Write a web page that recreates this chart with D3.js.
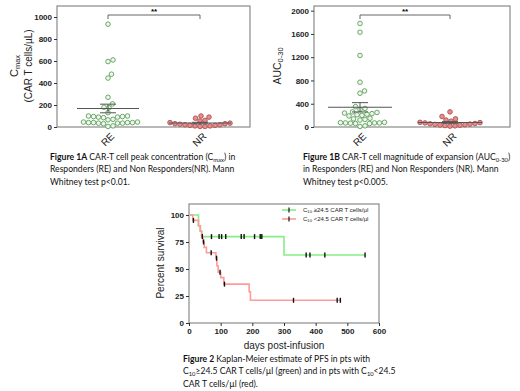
<!DOCTYPE html>
<html>
<head>
<meta charset="utf-8">
<script src="https://cdn.jsdelivr.net/npm/d3@7"></script>
<style>
  body { margin: 0; background: #fff; }
  svg { display: block; }
</style>
</head>
<body>
<div id="chart"></div>
<script>
// ---- data ----
const groups = ['RE', 'NR'];

const cmaxRE = [935, 610, 595, 480, 445, 270, 210, 180, 175, 130, 100, 100, 95, 95, 90, 90, 85, 70, 65,
  45, 45, 40, 40, 40, 40, 35, 35, 35, 30, 10, 5];
const cmaxNR = [100, 90, 80, 60, 55, 40, 35, 30, 30, 25, 20, 20, 15, 15, 10, 10, 5, 5];
const cmaxTicks = [0, 200, 400, 600, 800, 1000];

const aucRE = [1780, 1630, 1230, 770, 620, 580, 350, 320, 300, 260, 250, 240, 230, 220, 210, 200, 190,
  150, 140, 130, 120, 80, 75, 70, 70, 70, 65, 60, 60, 20, 10];
const aucNR = [260, 180, 140, 120, 100, 80, 75, 70, 60, 55, 50, 45, 40, 35, 30, 25, 20, 15];
const aucTicks = [0, 400, 800, 1200, 1600, 2000];

// Kaplan-Meier steps (day, percent) and censor marks
const hiTimes = [0, 30, 35, 40, 300];
const hiSurv = [100, 90, 85, 80, 63];
const hiEnd = 556;
const hiCensorT = [71, 95, 103, 116, 165, 174, 207, 225, 230, 370, 382, 429, 556];

const loTimes = [0, 12, 30, 36, 40, 44, 48, 55, 85, 88, 92, 100, 110, 190, 194];
const loSurv = [100, 95, 90, 85, 80, 75, 70, 65, 60, 53, 47, 42, 36, 29, 21];
const loEnd = 480;
const loCensorT = [14, 42, 46, 70, 87, 98, 112, 330, 468, 478];

const survTicks = [0, 25, 50, 75, 100];
const dayTicks = [0, 100, 200, 300, 400, 500, 600];

// ---- drawing ----
const W = 520, H = 391;
const svg = d3.select('#chart').append('svg')
  .attr('width', W).attr('height', H)
  .attr('font-family', '"Liberation Sans", Arial, sans-serif');

const frameColor = '#8a8a8a';

function caption(x, y, lines) {
  const t = svg.append('text')
    .attr('x', x).attr('y', y)
    .attr('font-family', 'Lato, "Open Sans", sans-serif')
    .attr('font-size', 8.6).attr('fill', '#111');
  lines.forEach((segs, i) => {
    segs.forEach((s, j) => {
      const sp = t.append('tspan').text(s.t);
      if (j === 0) sp.attr('x', x).attr('y', y + i * 12.4);
      if (s.b) sp.attr('font-weight', 'bold');
      if (s.sub) sp.attr('font-size', 5.8).attr('dy', 1.5);
      else if (j > 0 && segs[j - 1].sub) sp.attr('dy', -1.5);
    });
  });
}

function swarm(values, y, cx, r) {
  const pts = values.map(v => ({ v, y: y(v) })).sort((a, b) => b.y - a.y);
  const placed = [];
  pts.forEach(p => {
    for (let k = 0; k < 200; k++) {
      const off = (k % 2 ? 1 : -1) * Math.ceil(k / 2) * 0.5;
      const x = cx + off;
      const hit = placed.some(q => (q.x - x) ** 2 + (q.y - p.y) ** 2 < (2 * r + 0.4) ** 2);
      if (!hit) { p.x = x; placed.push(p); break; }
    }
  });
  return placed;
}

function styleAxis(a) {
  a.select('.domain').remove();
  a.selectAll('line').attr('stroke', '#333');
  a.selectAll('text').attr('font-size', 8).attr('font-weight', 'bold').attr('fill', '#222')
    .attr('font-family', '"Liberation Sans", Arial, sans-serif');
}

function scatterPanel(o) {
  const y = d3.scaleLinear().domain([0, o.top]).range([127, 6]);
  const x = d3.scaleOrdinal().domain(groups).range(o.centers);
  const g = svg.append('g');

  g.append('rect')
    .attr('x', o.left).attr('y', 6)
    .attr('width', o.right - o.left).attr('height', 121)
    .attr('fill', 'none').attr('stroke', frameColor).attr('stroke-width', 1.2);

  g.append('g')
    .attr('transform', `translate(${o.left},0)`)
    .call(d3.axisLeft(y).tickValues(o.ticks).tickFormat(d3.format('d')).tickSize(3).tickPadding(2))
    .call(styleAxis);

  // category labels, rotated
  groups.forEach(c => {
    g.append('text')
      .attr('transform', `translate(${x(c) + 7},${137}) rotate(-45)`)
      .attr('text-anchor', 'end')
      .attr('font-size', 10).attr('fill', '#222')
      .text(c);
  });

  // significance bracket
  const by = 15;
  g.append('path')
    .attr('d', `M${x('RE')},${by + 4}V${by}H${x('NR')}V${by + 4}`)
    .attr('fill', 'none').attr('stroke', '#555').attr('stroke-width', 0.9);
  g.append('text')
    .attr('x', (x('RE') + x('NR')) / 2).attr('y', by - 1)
    .attr('text-anchor', 'middle').attr('font-size', 8).attr('font-weight', 'bold')
    .text('**');

  const sets = [
    { c: 'RE', vals: o.re, fill: '#eef8ea', stroke: '#5e9e5e' },
    { c: 'NR', vals: o.nr, fill: '#ee8a8a', stroke: '#a85454' }
  ];
  sets.forEach(s => {
    const pts = swarm(s.vals, y, x(s.c), 2.3);
    g.selectAll(null).data(pts).enter().append('circle')
      .attr('cx', d => d.x).attr('cy', d => d.y).attr('r', 2.3)
      .attr('fill', s.fill).attr('stroke', s.stroke).attr('stroke-width', 0.9);

    const m = d3.mean(s.vals);
    const sem = d3.deviation(s.vals) / Math.sqrt(s.vals.length);
    const cx = x(s.c);
    g.append('line')
      .attr('x1', cx - o.halfW).attr('x2', cx + o.halfW)
      .attr('y1', y(m)).attr('y2', y(m))
      .attr('stroke', '#555').attr('stroke-width', 1.1);
    g.append('path')
      .attr('d', `M${cx - 8},${y(m + sem)}H${cx + 8}M${cx},${y(m + sem)}V${y(m - sem)}M${cx - 8},${y(m - sem)}H${cx + 8}`)
      .attr('fill', 'none').attr('stroke', '#555').attr('stroke-width', 1);
  });

  o.label(g);
}

// Figure 1A
scatterPanel({
  left: 57, right: 250, top: 1100, centers: [108, 200], halfW: 31,
  ticks: cmaxTicks, re: cmaxRE, nr: cmaxNR,
  label: g => {
    const t1 = g.append('text')
      .attr('transform', 'translate(18,66) rotate(-90)')
      .attr('text-anchor', 'middle').attr('font-size', 11).attr('fill', '#222');
    t1.append('tspan').text('C');
    t1.append('tspan').text('max').attr('font-size', 7.5).attr('dy', 2);
    g.append('text')
      .attr('transform', 'translate(32,66) rotate(-90)')
      .attr('text-anchor', 'middle').attr('font-size', 10).attr('fill', '#222')
      .text('(CAR T cells/µL)');
  }
});

// Figure 1B
scatterPanel({
  left: 314, right: 510, top: 2080, centers: [360, 450], halfW: 32,
  ticks: aucTicks, re: aucRE, nr: aucNR,
  label: g => {
    const t = g.append('text')
      .attr('transform', 'translate(281,66) rotate(-90)')
      .attr('text-anchor', 'middle').attr('font-size', 10.5).attr('fill', '#222');
    t.append('tspan').text('AUC');
    t.append('tspan').text('0-30').attr('font-size', 7.5).attr('dy', 2);
  }
});

caption(50, 160, [
  [{ t: 'Figure 1A', b: true }, { t: ' CAR-T cell peak concentration (C' }, { t: 'max', sub: true }, { t: ') in' }],
  [{ t: 'Responders (RE) and Non Responders(NR). Mann' }],
  [{ t: 'Whitney test p<0.01.' }]
]);
caption(303, 160, [
  [{ t: 'Figure 1B', b: true }, { t: ' CAR-T cell magnitude of expansion (AUC' }, { t: '0-30', sub: true }, { t: ')' }],
  [{ t: 'in Responders (RE) and Non Responders (NR). Mann' }],
  [{ t: 'Whitney test p<0.005.' }]
]);

// Figure 2: Kaplan-Meier
const kx = d3.scaleLinear().domain([0, 600]).range([189, 379]);
const ky = d3.scaleLinear().domain([0, 100]).range([323, 215]);
const k = svg.append('g');

k.append('rect')
  .attr('x', 189).attr('y', 204).attr('width', 190).attr('height', 119)
  .attr('fill', 'none').attr('stroke', frameColor).attr('stroke-width', 1.2);

k.append('g').attr('transform', 'translate(0,323)')
  .call(d3.axisBottom(kx).tickValues(dayTicks).tickSize(3).tickPadding(2))
  .call(styleAxis);
k.append('g').attr('transform', 'translate(189,0)')
  .call(d3.axisLeft(ky).tickValues(survTicks).tickSize(3).tickPadding(2))
  .call(styleAxis);

k.append('text')
  .attr('transform', 'translate(164,263) rotate(-90)')
  .attr('text-anchor', 'middle').attr('font-size', 10).attr('fill', '#222')
  .text('Percent survival');
k.append('text')
  .attr('x', 284).attr('y', 349)
  .attr('text-anchor', 'middle').attr('font-size', 10).attr('fill', '#222')
  .text('days post-infusion');

const step = d3.line().x(d => kx(d[0])).y(d => ky(d[1])).curve(d3.curveStepAfter);
const curves = [
  { times: hiTimes, surv: hiSurv, end: hiEnd, cens: hiCensorT, color: '#86ee86' },
  { times: loTimes, surv: loSurv, end: loEnd, cens: loCensorT, color: '#ff9a9a' }
];
function survAt(c, t) {
  let s = c.surv[0];
  c.times.forEach((tt, i) => { if (tt <= t) s = c.surv[i]; });
  return s;
}
curves.forEach(c => {
  const pts = c.times.map((t, i) => [t, c.surv[i]]);
  pts.push([c.end, c.surv[c.surv.length - 1]]);
  k.append('path').datum(pts)
    .attr('d', step).attr('fill', 'none')
    .attr('stroke', c.color).attr('stroke-width', 1.6);
});
curves.forEach(c => {
  k.selectAll(null).data(c.cens).enter().append('line')
    .attr('x1', d => kx(d)).attr('x2', d => kx(d))
    .attr('y1', d => ky(survAt(c, d)) - 2.5).attr('y2', d => ky(survAt(c, d)) + 2.5)
    .attr('stroke', '#111').attr('stroke-width', 1.4);
});

// legend
const legendItems = [
  { color: '#86ee86', sign: '≥' },
  { color: '#ff9a9a', sign: '<' }
];
legendItems.forEach((d, i) => {
  const ly = 210 + i * 9;
  k.append('line').attr('x1', 282).attr('x2', 296).attr('y1', ly).attr('y2', ly)
    .attr('stroke', d.color).attr('stroke-width', 1.6);
  k.append('line').attr('x1', 289).attr('x2', 289).attr('y1', ly - 2.5).attr('y2', ly + 2.5)
    .attr('stroke', '#111').attr('stroke-width', 1.2);
  const t = k.append('text').attr('x', 303).attr('y', ly + 2)
    .attr('font-size', 6).attr('fill', '#222');
  t.append('tspan').text('C');
  t.append('tspan').text('10').attr('font-size', 4.2).attr('dy', 1.2);
  t.append('tspan').text(` ${d.sign}24.5 CAR T cells/µl`).attr('dy', -1.2);
});

caption(183, 362, [
  [{ t: 'Figure 2', b: true }, { t: ' Kaplan-Meier estimate of PFS in pts with' }],
  [{ t: 'C' }, { t: '10', sub: true }, { t: '≥24.5 CAR T cells/µl (green) and in pts with C' }, { t: '10', sub: true }, { t: '<24.5' }],
  [{ t: 'CAR T cells/µl (red).' }]
]);
</script>
</body>
</html>
